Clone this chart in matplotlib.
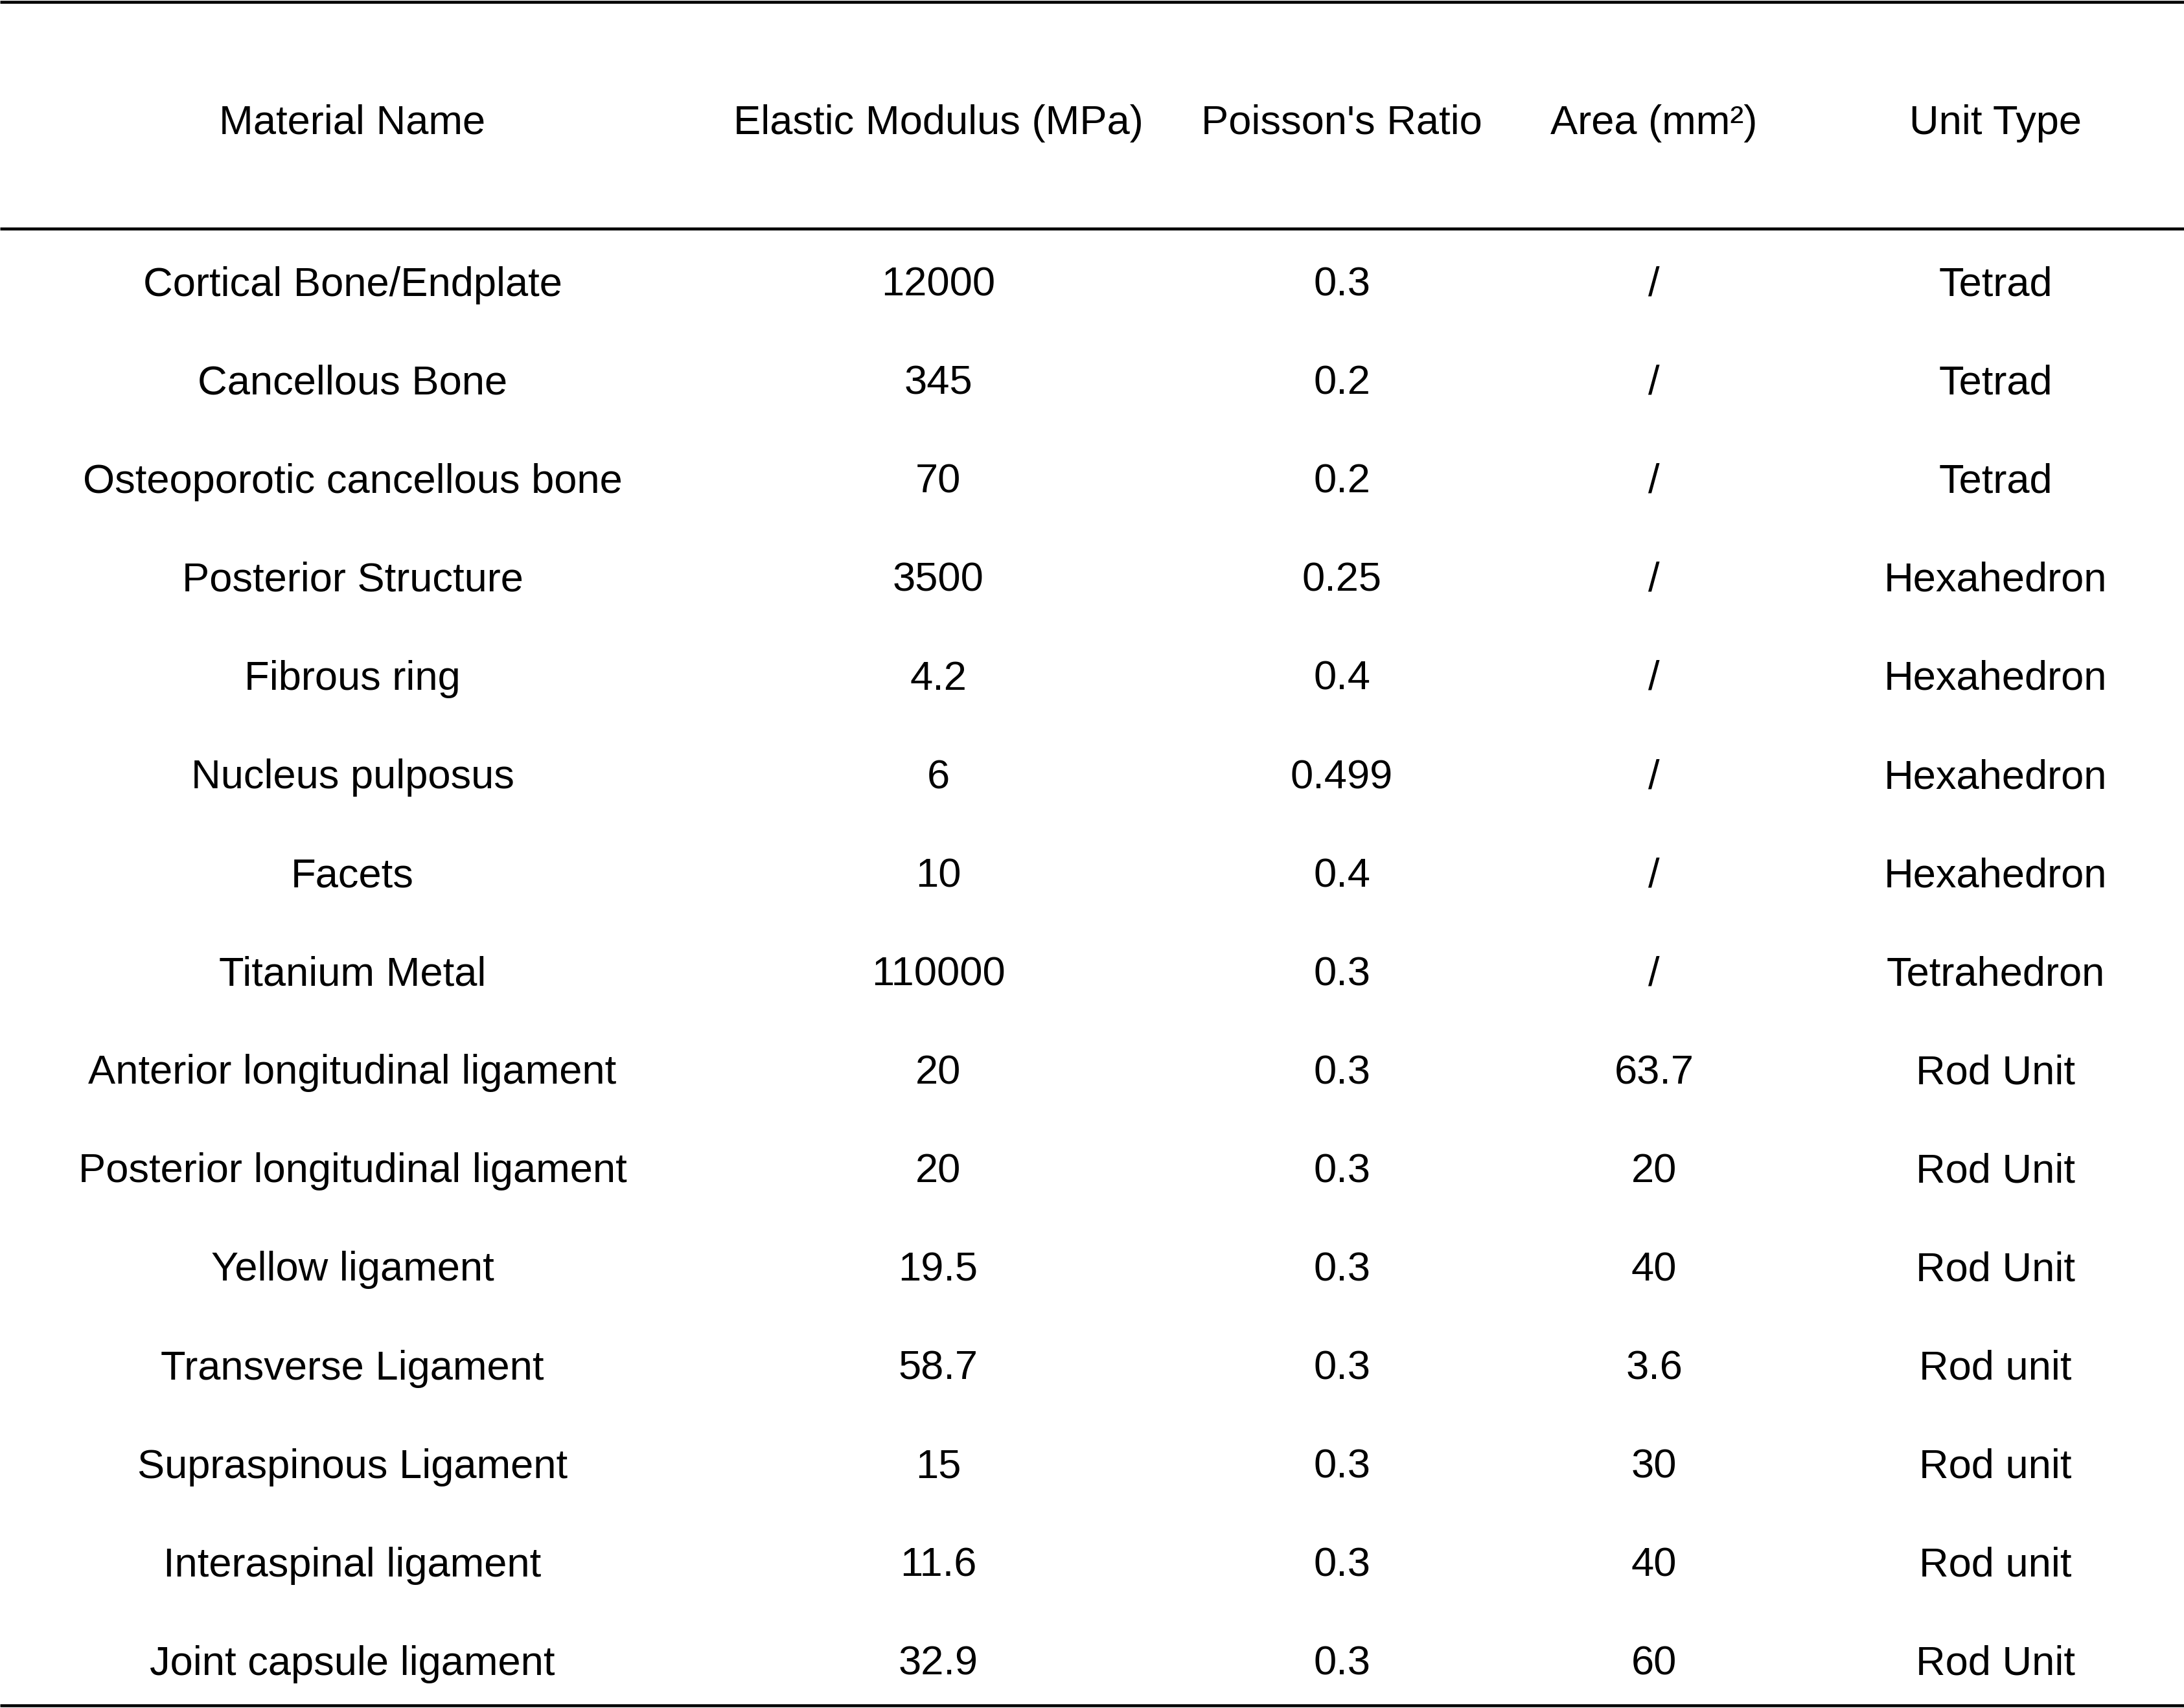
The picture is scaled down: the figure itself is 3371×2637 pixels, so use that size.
import matplotlib
matplotlib.use('Agg')
import matplotlib.pyplot as plt

headers = ['Material Name', 'Elastic Modulus (MPa)', "Poisson's Ratio", 'Area (mm²)', 'Unit Type']

materials = ['Cortical Bone/Endplate', 'Cancellous Bone', 'Osteoporotic cancellous bone',
             'Posterior Structure', 'Fibrous ring', 'Nucleus pulposus', 'Facets',
             'Titanium Metal', 'Anterior longitudinal ligament', 'Posterior longitudinal ligament',
             'Yellow ligament', 'Transverse Ligament', 'Supraspinous Ligament',
             'Interaspinal ligament', 'Joint capsule ligament']
modulus = ['12000', '345', '70', '3500', '4.2', '6', '10', '110000', '20', '20',
           '19.5', '58.7', '15', '11.6', '32.9']
poisson = ['0.3', '0.2', '0.2', '0.25', '0.4', '0.499', '0.4', '0.3', '0.3', '0.3',
           '0.3', '0.3', '0.3', '0.3', '0.3']
area = ['/', '/', '/', '/', '/', '/', '/', '/', '63.7', '20', '40', '3.6', '30', '40', '60']
unit_type = ['Tetrad', 'Tetrad', 'Tetrad', 'Hexahedron', 'Hexahedron', 'Hexahedron',
             'Hexahedron', 'Tetrahedron', 'Rod Unit', 'Rod Unit', 'Rod Unit', 'Rod unit',
             'Rod unit', 'Rod unit', 'Rod Unit']

W, H = 3371, 2637
col_x = [544, 1448, 2071, 2553, 3080]
header_y = 190
row0_y = 440
row_step = 152.1

fig = plt.figure(figsize=(W / 100, H / 100), dpi=100)
ax = fig.add_axes([0, 0, 1, 1])
ax.set_xlim(0, W)
ax.set_ylim(H, 0)
ax.axis('off')

font = dict(family=['Liberation Sans', 'DejaVu Sans'], fontsize=45.5, color='black',
            ha='center', va='center')

for x, h in zip(col_x, headers):
    ax.text(x, header_y, h, **font)

columns = [materials, modulus, poisson, area, unit_type]
for c, col in enumerate(columns):
    for r, val in enumerate(col):
        ax.text(col_x[c], row0_y + r * row_step, val, **font)

# three horizontal rules
for y in [3, 353, 2633]:
    ax.plot([0, W], [y, y], color='black', lw=3.3, solid_capstyle='butt')

fig.savefig('out.png', dpi=100)
